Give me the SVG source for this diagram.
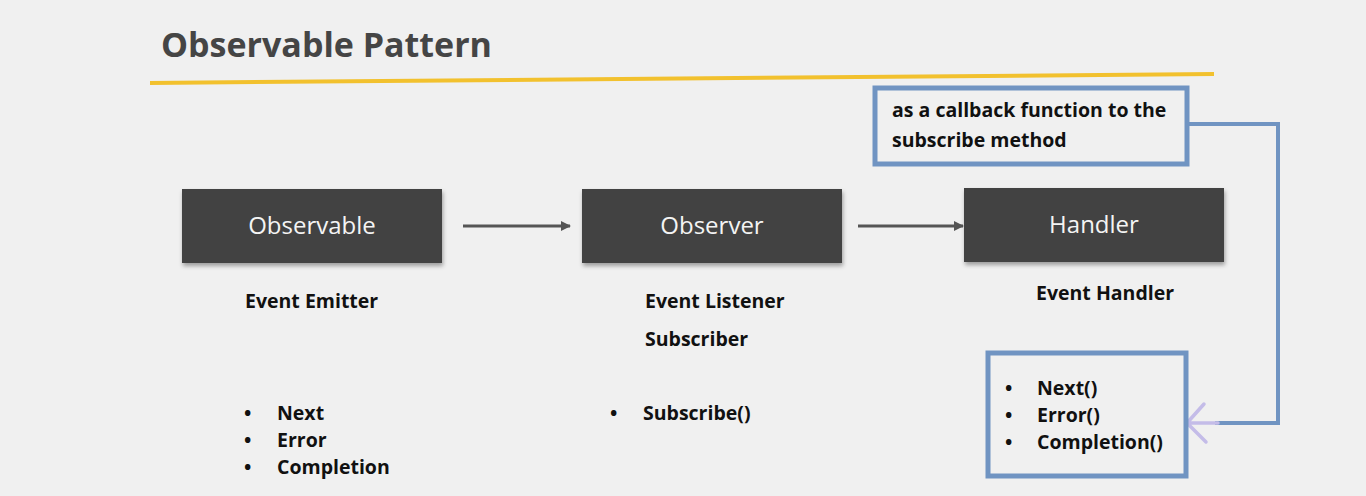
<svg xmlns="http://www.w3.org/2000/svg" width="1366" height="496" viewBox="0 0 1366 496">
<style>
.title{font-family:"Open Sans","Liberation Sans",sans-serif;font-weight:700;font-size:34px;fill:#454545}
.box{fill:#424242}
.btxt{font-family:"Open Sans","Liberation Sans",sans-serif;font-size:24px;fill:#f4f4f4;text-anchor:middle}
.lbl{font-family:"Open Sans","Liberation Sans",sans-serif;font-weight:700;font-size:19.5px;fill:#111}
.frame{fill:#f0f0f0;stroke:#7094c2;stroke-width:5}
.conn{fill:none;stroke:#555;stroke-width:3}
.blue{fill:none;stroke:#7094c2;stroke-width:4}
</style>
<defs>
<filter id="sh" x="-10%" y="-10%" width="120%" height="140%">
<feDropShadow dx="1" dy="3" stdDeviation="2" flood-color="#000" flood-opacity="0.35"/>
</filter>
<marker id="ah" markerWidth="10" markerHeight="10" refX="9" refY="5" orient="auto" markerUnits="userSpaceOnUse">
<path d="M0,0 L10,5 L0,10 z" fill="#555"/>
</marker>
</defs>
<rect width="1366" height="496" fill="#f0f0f0"/>
<text class="title" x="161" y="57">Observable Pattern</text>
<line x1="150" y1="83" x2="1214" y2="74" stroke="#f2c12e" stroke-width="4"/>

<g id="connectors">
<line class="conn" x1="463" y1="226" x2="570" y2="226" marker-end="url(#ah)"/>
<line class="conn" x1="858" y1="226" x2="963" y2="226" marker-end="url(#ah)"/>
<path class="blue" d="M1187,124 H1278 V423 H1215"/>
<path d="M1218,423 H1188 M1204,404 L1187,423 L1206,442" fill="none" stroke="#c4bce8" stroke-width="3.5" stroke-linecap="round" stroke-linejoin="round"/>
</g>

<g id="observable">
<rect class="box" x="182" y="189" width="260" height="74" filter="url(#sh)"/>
<text class="btxt" x="312" y="234">Observable</text>
<text class="lbl" x="245" y="308">Event Emitter</text>
<text class="lbl" x="244" y="420">•</text>
<text class="lbl" x="277" y="420">Next</text>
<text class="lbl" x="244" y="447">•</text>
<text class="lbl" x="277" y="447">Error</text>
<text class="lbl" x="244" y="474">•</text>
<text class="lbl" x="277" y="474">Completion</text>
</g>

<g id="observer">
<rect class="box" x="582" y="189" width="260" height="74" filter="url(#sh)"/>
<text class="btxt" x="712" y="234">Observer</text>
<text class="lbl" x="645" y="308">Event Listener</text>
<text class="lbl" x="645" y="346">Subscriber</text>
<text class="lbl" x="610" y="420">•</text>
<text class="lbl" x="643" y="420">Subscribe()</text>
</g>

<g id="handler">
<rect class="box" x="964" y="188" width="260" height="74" filter="url(#sh)"/>
<text class="btxt" x="1094" y="233">Handler</text>
<text class="lbl" x="1036" y="300">Event Handler</text>
</g>

<g id="callback">
<rect class="frame" x="875" y="88" width="312" height="76"/>
<text class="lbl" x="892" y="117">as a callback function to the</text>
<text class="lbl" x="892" y="147">subscribe method</text>
</g>

<g id="methods">
<rect class="frame" x="988" y="353" width="198" height="123"/>
<text class="lbl" x="1005" y="395">•</text>
<text class="lbl" x="1037" y="395">Next()</text>
<text class="lbl" x="1005" y="422">•</text>
<text class="lbl" x="1037" y="422">Error()</text>
<text class="lbl" x="1005" y="449">•</text>
<text class="lbl" x="1037" y="449">Completion()</text>
</g>
</svg>
